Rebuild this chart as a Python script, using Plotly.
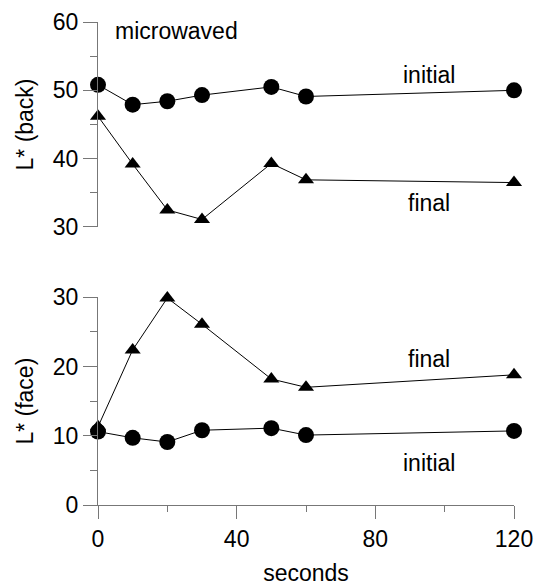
import plotly.graph_objects as go
from plotly.subplots import make_subplots

# Microwave exposure time (s)
seconds = [0, 10, 20, 30, 50, 60, 120]

# L* of the back surface
back_initial = [50.8, 47.9, 48.4, 49.3, 50.5, 49.1, 50.0]
back_final = [46.2, 39.2, 32.5, 31.1, 39.3, 36.9, 36.5]

# L* of the face surface
face_initial = [10.6, 9.7, 9.1, 10.8, 11.1, 10.1, 10.7]
face_final = [11.3, 22.4, 29.9, 26.1, 18.2, 17.0, 18.8]

x_ticks = [0, 40, 80, 120]
back_ticks = [30, 40, 50, 60]
face_ticks = [0, 10, 20, 30]

FONT = "Liberation Sans, Arial, sans-serif"
FSIZE = 23
AXIS_GREY = "#777777"

fig = make_subplots(rows=2, cols=1, shared_xaxes=False, vertical_spacing=0.0)


def add_series(row, xs, ys, symbol, size):
    fig.add_trace(
        go.Scatter(
            x=xs, y=ys, mode="lines+markers",
            line=dict(color="black", width=1),
            marker=dict(symbol=symbol, size=size, color="black"),
            cliponaxis=False, showlegend=False,
        ),
        row=row, col=1,
    )


add_series(1, seconds, back_initial, "circle", 16)
add_series(1, seconds, back_final, "triangle-up", 14)
add_series(2, seconds, face_initial, "circle", 16)
add_series(2, seconds, face_final, "triangle-up", 14)

y_common = dict(
    automargin=False,
    showgrid=False, zeroline=False, showline=True, linecolor=AXIS_GREY, linewidth=1.3,
    ticks="outside", ticklen=14, tickwidth=1.3, tickcolor=AXIS_GREY,
    tickfont=dict(family=FONT, size=FSIZE, color="black"),
    minor=dict(ticks="outside", ticklen=7, tickwidth=1.3, tickcolor=AXIS_GREY, dtick=5),
    title_font=dict(family=FONT, size=FSIZE, color="black"),
)

fig.update_layout(
    width=537, height=587,
    margin=dict(l=98, r=23, t=22, b=82),
    plot_bgcolor="white", paper_bgcolor="white",
    font=dict(family=FONT, size=FSIZE, color="black"),
    xaxis=dict(domain=[0, 1], range=[0, 120], visible=False, anchor="y", automargin=False),
    yaxis=dict(domain=[0.5756, 1], range=[30, 60], tickvals=back_ticks,
               title=dict(text="L* (back)", standoff=12), anchor="x", **y_common),
    xaxis2=dict(
        domain=[0, 1], range=[0, 120], tickvals=x_ticks, anchor="y2", automargin=False,
        showgrid=False, zeroline=False, showline=True, linecolor=AXIS_GREY, linewidth=1.3,
        ticks="outside", ticklen=13, tickwidth=1.3, tickcolor=AXIS_GREY,
        tickfont=dict(family=FONT, size=FSIZE, color="black"),
        minor=dict(ticks="outside", ticklen=6, tickwidth=1.3, tickcolor=AXIS_GREY, dtick=20),
        title=dict(text="seconds", standoff=14,
                   font=dict(family=FONT, size=FSIZE, color="black")),
    ),
    yaxis2=dict(domain=[0, 0.43], range=[0, 30], tickvals=face_ticks,
                title=dict(text="L* (face)", standoff=12), anchor="x2", **y_common),
)

# In-plot labels
labels = [
    ("x", "y", 4.3, 58.7, "microwaved", "left"),
    ("x", "y", 95.5, 52.2, "initial", "center"),
    ("x", "y", 95.5, 33.5, "final", "center"),
    ("x2", "y2", 95.5, 21.1, "final", "center"),
    ("x2", "y2", 95.5, 6.1, "initial", "center"),
]
for xr, yr, lx, ly, txt, align in labels:
    fig.add_annotation(
        xref=xr, yref=yr, x=lx, y=ly, text=txt, showarrow=False,
        xanchor=align, yanchor="middle",
        font=dict(family=FONT, size=FSIZE, color="black"),
    )

fig.write_html("out.html")
